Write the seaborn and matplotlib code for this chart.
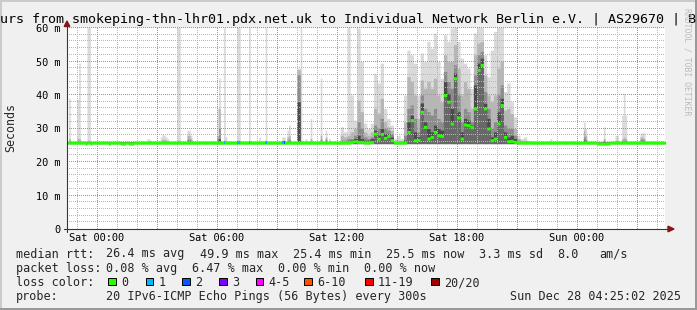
import numpy as np
import matplotlib
matplotlib.use("Agg")
import matplotlib.pyplot as plt
import seaborn as sns
from matplotlib.patches import Rectangle, Polygon
from matplotlib.lines import Line2D

# ---------------- data ----------------
title_text = "urs from smokeping-thn-lhr01.pdx.net.uk to Individual Network Berlin e.V. | AS29670 | B"
y_axis_label = "Seconds"
watermark = "RRDTOOL / TOBI OETIKER"
x_tick_minutes = [0, 360, 720, 1080, 1440]            # minutes after Sat 00:00
x_tick_labels = ["Sat 00:00", "Sat 06:00", "Sat 12:00", "Sat 18:00", "Sun 00:00"]
y_tick_values = [0, 10, 20, 30, 40, 50, 60]             # milliseconds
y_tick_labels = ["0", "10 m", "20 m", "30 m", "40 m", "50 m", "60 m"]

window_start, window_end = -90, 1705                   # minutes after Sat 00:00
sample_minutes = 5
last_sample = 1700

baseline_median = 25.8
baseline_min = 25.5
baseline_q60 = 25.9
baseline_q75 = 26.0
baseline_q90 = 26.1
baseline_max = 26.2

dip_start = [-35, -20, 35, 70, 95, 1500]
dip_end = [-30, -15, 40, 85, 110, 1540]
dip_median = [25.5, 25.5, 25.5, 25.5, 25.5, 25.35]

# isolated 5-minute columns with smoke above the baseline
spike_time = [-85, -60, -55, -30, -25,
              150, 155,
              190, 195, 200, 205, 210,
              240, 245,
              270, 275, 280,
              360, 365, 380, 385,
              420, 425, 455, 485, 505,
              555, 560, 570, 575,
              600, 605, 610, 625, 640,
              670, 685, 695,
              1360,
              1460, 1465,
              1520,
              1555, 1560,
              1575, 1580, 1585,
              1630, 1635, 1640]
spike_max = [39, 38.8, 49.5, 62, 62,
             27, 26.8,
             27.5, 28.3, 28, 27.5, 27,
             62, 62,
             29.5, 29.5, 28,
             36, 45, 62, 27.5,
             62, 62, 62, 27.5, 62,
             27.5, 27.5, 29.5, 31,
             48, 48, 62, 27, 33,
             45, 29.5, 27,
             27,
             32, 30,
             30.5,
             28, 28,
             34, 40.5, 34,
             28.7, 28.7, 28.7]
spike_q90 = [27, 27, 27, 26.5, 26.5,
             26.3, 26.3,
             26.5, 26.8, 26.8, 26.5, 26.3,
             26.5, 26.5,
             28, 28, 27,
             28, 36, 26.5, 26.3,
             26.5, 26.5, 26.3, 26.3, 26.3,
             26.5, 26.5, 27.5, 28,
             47.5, 47.5, 26.5, 26.3, 27,
             28, 27.5, 26.5,
             26.3,
             29.5, 28,
             27,
             26.5, 26.5,
             27, 27.5, 27,
             27.5, 27.5, 27]
spike_q75 = [26.3, 26.3, 26.3, 26.1, 26.1,
             26.1, 26.1,
             26.2, 26.3, 26.3, 26.2, 26.1,
             26.1, 26.1,
             26.8, 26.8, 26.5,
             27, 30, 26.1, 26.1,
             26.1, 26.1, 26.1, 26.1, 26.1,
             26.1, 26.1, 26.5, 26.8,
             46, 46, 26.1, 26.1, 26.5,
             26.8, 26.8, 26.1,
             26.1,
             27.5, 26.8,
             26.5,
             26.2, 26.2,
             26.5, 26.5, 26.5,
             26.8, 26.8, 26.5]
spike_q60 = [26, 26, 26, 26, 26,
             26, 26,
             26, 26, 26, 26, 26,
             26, 26,
             26.2, 26.2, 26,
             26.3, 27, 26, 26,
             26, 26, 26, 26, 26,
             26, 26, 26, 26.2,
             38, 38, 26, 26, 26,
             26.2, 26.2, 26,
             26,
             26.5, 26.2,
             26,
             26, 26,
             26, 26, 26,
             26.2, 26.2, 26]
spike_loss = [0, 0, 0, 0, 0,
              0, 0,
              0, 0, 0, 0, 0,
              0, 0,
              0, 0, 0,
              0, 0, 1, 0,
              1, 1, 1, 0, 1,
              1, 2, 0, 0,
              0, 0, 0, 0, 0,
              0, 0, 0,
              0,
              0, 0,
              0,
              0, 0,
              0, 0, 0,
              0, 0, 0]

# busy afternoon, read in 10-minute steps from Sat 12:10
busy_start = 730
busy_step = 10
busy_max = [30.5, 29, 62, 40, 32.5, 60, 50, 31.6, 30, 31.6,
            46.5, 43.6, 49.5, 36, 33, 31, 27, 28, 27, 40,
            53.4, 52, 49.5, 40, 52.5, 50, 56, 54, 58.5, 50,
            45, 58, 56, 60, 62, 56, 51, 49.5, 48, 42,
            58.5, 62, 62, 52, 45.5, 53.4, 59, 62, 62, 41,
            43.6, 38, 33.5, 28, 27, 27.5, 26.5]
busy_q90 = [28, 27.5, 28, 29, 30, 38.5, 35, 29, 28, 29,
            36, 34.6, 39, 32, 30.5, 29.5, 26.5, 26.5, 26.5, 32,
            45.5, 44, 40, 33, 44.5, 42, 44, 42, 45, 40,
            38, 52, 50, 50, 55, 48, 40, 44, 42, 36,
            52, 55.5, 56, 46, 40, 38, 40, 48, 50, 35.5,
            36, 34.5, 30, 27, 26.5, 26.5, 26.2]
busy_q75 = [26.5, 26.5, 27, 27, 28, 32, 30, 27.5, 27, 27.5,
            31, 30, 33, 30, 29.5, 28.5, 26, 26, 26, 28,
            36, 37, 33, 29, 40, 36, 35, 34, 36, 33,
            32, 47, 44, 42, 49, 40, 32, 36, 35, 32,
            46, 52, 53, 41, 36, 30, 32, 40, 43, 31,
            30, 30, 28, 26.5, 26.2, 26.2, 26]
busy_q60 = [26, 26, 26.2, 26.5, 27, 28, 27, 26.5, 26.5, 27,
            29.5, 28, 30, 28.5, 28.5, 27.5, 25.9, 25.9, 25.9, 26.5,
            32, 34, 29, 27.5, 37.6, 32, 30, 29, 31, 30,
            29.5, 44, 40.5, 36, 46.5, 35, 29, 33, 32.5, 31,
            43, 49.5, 51, 37.5, 33, 27.5, 29, 35, 39, 29,
            27.5, 28, 27, 26, 26, 26, 25.9]
busy_med = [25.8, 25.8, 25.8, 26, 26.2, 26, 26, 25.8, 25.8, 26,
            28.5, 27, 28.4, 27.2, 27.8, 26.5, 25.8, 25.8, 25.8, 25.8,
            29, 32.5, 26.5, 26.6, 35, 30.5, 27, 27.5, 29, 28,
            27.8, 40, 38, 31.5, 45, 33.3, 27, 31.2, 31, 30.4,
            36, 47.5, 49, 36, 30, 26.5, 27, 31.5, 37, 27.5,
            26.2, 26.3, 26, 25.8, 25.8, 25.8, 25.8]

loss_labels = ["0", "1", "2", "3", "4-5", "6-10", "11-19", "20/20"]
loss_colors = ["#26ff00", "#00b8ff", "#0059ff", "#7e00ff",
               "#ff00ff", "#ff5500", "#ff0000", "#a10000"]

rtt_values = ["26.4", "49.9", "25.4", "25.5"]
rtt_names = ["avg", "max", "min", "now"]
rtt_sd = "3.3"
rtt_ams = "8.0"
loss_values = ["0.08", "6.47", "0.00", "0.00"]
probe_text = "20 IPv6-ICMP Echo Pings (56 Bytes) every 300s"
stamp_text = "Sun Dec 28 04:25:02 2025"

# ---------------- assemble columns ----------------
t = np.arange(window_start, last_sample + sample_minutes, sample_minutes)
n = len(t)
col_lo = np.full(n, baseline_min)
col_med = np.full(n, baseline_median)
col_q60 = np.full(n, baseline_q60)
col_q75 = np.full(n, baseline_q75)
col_q90 = np.full(n, baseline_q90)
col_max = np.full(n, baseline_max)
col_loss = np.zeros(n, dtype=int)

for s, e, v in zip(dip_start, dip_end, dip_median):
    col_med[(t >= s) & (t < e)] = v

si = (np.array(spike_time) - window_start) // sample_minutes
col_max[si] = spike_max
col_q90[si] = spike_q90
col_q75[si] = spike_q75
col_q60[si] = spike_q60
col_loss[si] = spike_loss

bt = busy_start + busy_step * np.arange(len(busy_max))
for k in range(busy_step // sample_minutes):
    bi = (bt - window_start) // sample_minutes + k
    col_max[bi] = busy_max
    col_q90[bi] = busy_q90
    col_q75[bi] = busy_q75
    col_q60[bi] = busy_q60
    col_med[bi] = busy_med

levels = np.maximum.accumulate(
    np.vstack([col_lo, col_med, col_q60, col_q75, col_q90, col_max]), axis=0)

# ---------------- figure ----------------
sns.set_theme(style="white")
plt.rcParams["font.family"] = ["DejaVu Sans Mono", "DejaVu Sans"]

W, H = 697, 310
fig = plt.figure(figsize=(W / 100, H / 100), dpi=100, facecolor="#f0f0f0")


def fx(px):
    return px / W


def fy(py):
    return 1 - py / H


AX_L, AX_R, AX_T, AX_B = 67, 665, 28, 229
ax = fig.add_axes([fx(AX_L), fy(AX_B), fx(AX_R) - fx(AX_L), fy(AX_T) - fy(AX_B)])
ax.set_facecolor("white")
ax.set_xlim(window_start, window_end)
ax.set_ylim(0, 60)
for sp in ax.spines.values():
    sp.set_visible(False)

edges = np.append(t, t[-1] + sample_minutes)


def ext(a):
    return np.append(a, a[-1])


# smoke: light outer band first, darker inner bands drawn over it
band_colors = ["#dadada", "#b6b6b6", "#8c8c8c", "#4a4a4a", "#686868"]
for k, c in zip([5, 4, 3, 2, 1], band_colors):
    ax.fill_between(edges, ext(levels[0]), ext(levels[k]), step="post",
                    color=c, linewidth=0, zorder=2)

# dotted grid: single pixels every second pixel along each grid line
px_x = (window_end - window_start) / (AX_R - AX_L)     # minutes per pixel
px_y = 60.0 / (AX_B - AX_T)                           # ms per pixel
vminor = [m for m in range(-60, window_end, 60) if m % 180 != 0]
vmajor = [m for m in range(0, window_end, 180)]
hminor = [v for v in range(2, 60, 2) if v % 10 != 0]
hmajor = [10, 20, 30, 40, 50, 60]
dots_y = np.arange(0, 60 + 1e-6, 2 * px_y)
dots_x = np.arange(window_start, window_end, 2 * px_x)


def grid_dots(vx, hy, color):
    xs = np.concatenate([np.full(len(dots_y), v) for v in vx] + [dots_x for _ in hy])
    ys = np.concatenate([dots_y for _ in vx] + [np.full(len(dots_x), h) for h in hy])
    ax.plot(xs, ys, linestyle="none", marker=",", color=color, zorder=3,
            antialiased=False, clip_on=False)


grid_dots(vminor, hminor, "#b8b8b8")
grid_dots(vmajor, hmajor, "#ec7474")

# median band coloured by packet loss
half = 0.45
ax.fill_between(edges, ext(levels[1] - half), ext(levels[1] + half), step="post",
                color=loss_colors[0], linewidth=0, zorder=4)
lm = col_loss > 0
ax.bar(t[lm], 2 * half, bottom=levels[1][lm] - half, width=sample_minutes, align="edge",
       color=[loss_colors[l] for l in col_loss[lm]], linewidth=0, zorder=5)

# ticks
ax.set_xticks(x_tick_minutes, x_tick_labels)
ax.set_yticks(y_tick_values, y_tick_labels)
ax.tick_params(axis="x", length=0, pad=2.6, labelsize=7.4, colors="black")
ax.tick_params(axis="y", length=0, pad=4.6, labelsize=7.4, colors="black")
ax.grid(False)

# axis lines with arrows
axis_col = "#2c3c38"
arrow_col = "#8c1414"
fig.add_artist(Line2D([fx(AX_L), fx(AX_L)], [fy(AX_B + 3), fy(AX_T - 4)], color=axis_col,
                      linewidth=0.8, transform=fig.transFigure))
fig.add_artist(Line2D([fx(AX_L - 3), fx(AX_R + 5)], [fy(AX_B), fy(AX_B)], color=axis_col,
                      linewidth=0.8, transform=fig.transFigure))
fig.add_artist(Polygon([[fx(AX_L - 2.8), fy(AX_T - 1.5)], [fx(AX_L + 2.8), fy(AX_T - 1.5)],
                        [fx(AX_L), fy(AX_T - 7)]], closed=True, color=arrow_col,
                       transform=fig.transFigure))
fig.add_artist(Polygon([[fx(AX_R + 3), fy(AX_B - 2.8)], [fx(AX_R + 3), fy(AX_B + 2.8)],
                        [fx(AX_R + 9), fy(AX_B)]], closed=True, color=arrow_col,
                       transform=fig.transFigure))

# titles / labels
fig.text(fx(0), fy(23.3), title_text, fontsize=9.6, ha="left", va="baseline", color="black")
fig.text(fx(10.5), fy(128), y_axis_label, fontsize=8.4, rotation=90, ha="center", va="center")
fig.text(fx(686.5), fy(62), watermark, fontsize=5.9, rotation=270, ha="center", va="center",
         color="#bcbcbc")

# legend
LEG = 8.45
LX = 106.5
base1, base2, base3, base4 = 257.5, 271.8, 286.0, 300.2
fig.text(fx(15.5), fy(base1), "median rtt:", fontsize=LEG, va="baseline")
for x, v, nm in zip([LX, LX + 93.3, LX + 186.6, LX + 279.9], rtt_values, rtt_names):
    fig.text(fx(x), fy(base1), f"{v} ms {nm}", fontsize=LEG, va="baseline")
fig.text(fx(479), fy(base1), f"{rtt_sd} ms sd", fontsize=LEG, va="baseline")
fig.text(fx(557.3), fy(base1), rtt_ams, fontsize=LEG, va="baseline")
fig.text(fx(599.5), fy(base1), "am/s", fontsize=LEG, va="baseline")

fig.text(fx(15.5), fy(base2), "packet loss:", fontsize=LEG, va="baseline")
for x, v, nm in zip([LX, LX + 86, LX + 172, LX + 258], loss_values, rtt_names):
    fig.text(fx(x), fy(base2), f"{v} % {nm}", fontsize=LEG, va="baseline")

fig.text(fx(15.5), fy(base3), "loss color:", fontsize=LEG, va="baseline")
sq_x = [108, 145.7, 182.3, 219, 255.7, 304.3, 365, 431]
for x, lab, c in zip(sq_x, loss_labels, loss_colors):
    fig.add_artist(Rectangle((fx(x), fy(285)), 7.5 / W, 7.5 / H, facecolor=c,
                             edgecolor="black", linewidth=0.7, transform=fig.transFigure))
    fig.text(fx(x + 13), fy(base3), lab, fontsize=LEG, va="baseline")

fig.text(fx(15.5), fy(base4), "probe:", fontsize=LEG, va="baseline")
fig.text(fx(LX), fy(base4), probe_text, fontsize=LEG, va="baseline")
fig.text(fx(681), fy(base4), stamp_text, fontsize=LEG, va="baseline", ha="right")

# 3-D frame of the canvas
shade_a, shade_b = "#cbcbcb", "#999999"
fig.add_artist(Rectangle((0, 0), 2 / W, 1, facecolor=shade_a, linewidth=0, transform=fig.transFigure))
fig.add_artist(Rectangle((0, 1 - 2 / H), 1, 2 / H, facecolor=shade_a, linewidth=0, transform=fig.transFigure))
fig.add_artist(Rectangle((1 - 2 / W, 0), 2 / W, 1, facecolor=shade_b, linewidth=0, transform=fig.transFigure))
fig.add_artist(Rectangle((0, 0), 1, 2 / H, facecolor=shade_b, linewidth=0, transform=fig.transFigure))

fig.savefig("out.png", dpi=100, facecolor=fig.get_facecolor())
